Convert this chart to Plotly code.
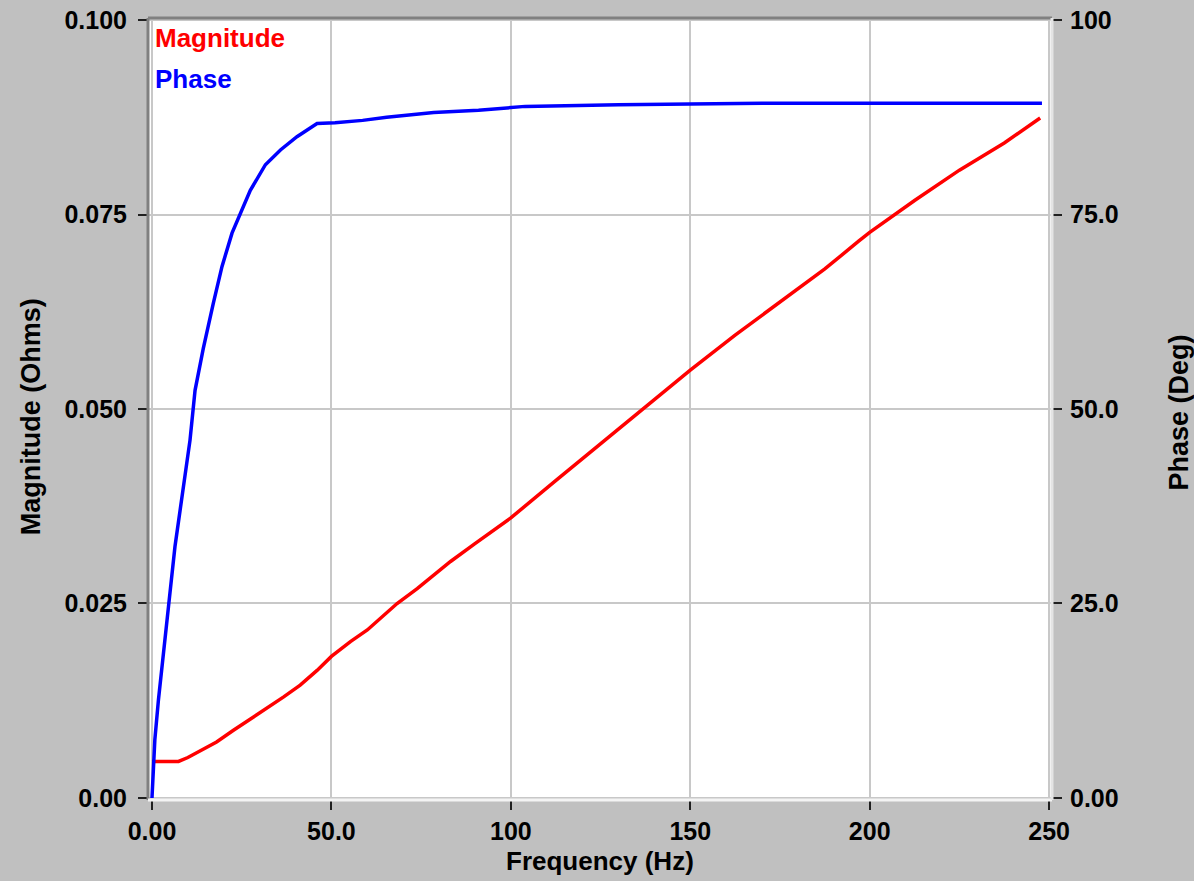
import plotly.graph_objects as go

# ---- data ----
freq_mag = [0, 7.4, 10, 13.4, 18, 22.7, 27.4, 32, 36.7, 41.3, 46, 50, 55.3, 60, 64.6,
            68.3, 73.9, 78.6, 83.2, 90, 100, 112.5, 125, 137, 150, 162.5, 175, 187.5,
            197, 200, 212.5, 225, 237.5, 247.5]
magnitude = [0.0047, 0.0047, 0.0052, 0.0060, 0.0072, 0.0087, 0.0101, 0.0115, 0.0130,
             0.0145, 0.0164, 0.0182, 0.0201, 0.0216, 0.0235, 0.0250, 0.0269, 0.0286,
             0.0304, 0.0327, 0.0360, 0.0408, 0.0455, 0.0500, 0.0550, 0.0595, 0.0638,
             0.0680, 0.0716, 0.0727, 0.0768, 0.0807, 0.0842, 0.0874]

freq_phase = [0, 0.8, 1.8, 3.2, 4.6, 6.4, 8.3, 10.6, 12, 14.3, 17.1, 19.5, 22.3, 24.6,
              27.4, 31.6, 35.8, 40.4, 45, 46, 51, 58.7, 65.4, 71.4, 78.5, 91, 104, 130,
              170, 248]
phase = [0, 7.5, 12.6, 18.2, 24.6, 32.3, 38.7, 46, 52.4, 57.8, 63.6, 68.3, 72.6, 75.2,
         78.1, 81.4, 83.3, 85.0, 86.5, 86.7, 86.8, 87.1, 87.5, 87.8, 88.1, 88.4, 88.9,
         89.1, 89.3, 89.3]

x_ticks = [0, 50, 100, 150, 200, 250]
x_ticktext = ["0.00", "50.0", "100", "150", "200", "250"]
mag_ticks = [0, 0.025, 0.05, 0.075, 0.1]
mag_ticktext = ["0.00", "0.025", "0.050", "0.075", "0.100"]
ph_ticks = [0, 25, 50, 75, 100]
ph_ticktext = ["0.00", "25.0", "50.0", "75.0", "100"]

FONT = "Liberation Sans, Arial, sans-serif"
FS = 26
TFS = 25
BG = "#C0C0C0"
GRID = "#C8C8C8"

fig = go.Figure()
fig.add_trace(go.Scatter(x=freq_mag, y=magnitude, mode="lines", name="Magnitude",
                         line=dict(color="#FF0000", width=3.5), yaxis="y"))
fig.add_trace(go.Scatter(x=freq_phase, y=phase, mode="lines", name="Phase",
                         line=dict(color="#0000FF", width=3.5), yaxis="y2"))

axis_common = dict(
    showgrid=True, gridcolor=GRID, gridwidth=2, zeroline=False,
    ticks="outside", ticklen=9, tickwidth=2, tickcolor="#202020",
    tickfont=dict(family=FONT, size=TFS, color="#000000", weight="bold"),
    showline=False, automargin=False,
)

fig.update_layout(
    width=1194, height=881,
    paper_bgcolor=BG, plot_bgcolor="#FFFFFF",
    margin=dict(l=148, r=142, t=18, b=81, autoexpand=False),
    showlegend=False,
    xaxis=dict(range=[-1.11, 250.8], tickvals=x_ticks, ticktext=x_ticktext, **axis_common),
    yaxis=dict(range=[-0.00026, 0.10026], tickvals=mag_ticks, ticktext=mag_ticktext,
               ticklabelstandoff=6, **axis_common),
    yaxis2=dict(range=[-0.26, 100.26], tickvals=ph_ticks, ticktext=ph_ticktext,
                overlaying="y", side="right", ticklabelstandoff=3,
                **{**axis_common, "showgrid": False}),
)

# sunken 3D border around the plot area
fig.add_shape(type="line", xref="paper", yref="paper", x0=0, x1=0, y0=0, y1=1,
              line=dict(color="#808080", width=3))
fig.add_shape(type="line", xref="paper", yref="paper", x0=0, x1=1, y0=1, y1=1,
              line=dict(color="#808080", width=3))
fig.add_shape(type="line", xref="paper", yref="paper", x0=0, x1=1, y0=0, y1=0,
              line=dict(color="#F4F4F4", width=3))
fig.add_shape(type="line", xref="paper", yref="paper", x0=1, x1=1, y0=0, y1=1,
              line=dict(color="#E4E4E4", width=3))

# in-plot legend texts
fig.add_annotation(xref="paper", yref="paper", x=0.005, y=0.996, xanchor="left",
                   yanchor="top", text="<b>Magnitude</b>", showarrow=False,
                   font=dict(family=FONT, size=FS, color="#FF0000"))
fig.add_annotation(xref="paper", yref="paper", x=0.005, y=0.944, xanchor="left",
                   yanchor="top", text="<b>Phase</b>", showarrow=False,
                   font=dict(family=FONT, size=FS, color="#0000FF"))

# axis titles
fig.add_annotation(xref="paper", yref="paper", x=0.5, y=-0.0775, xanchor="center",
                   yanchor="middle", text="<b>Frequency (Hz)</b>", showarrow=False,
                   font=dict(family=FONT, size=FS, color="#000000"))
fig.add_annotation(xref="paper", yref="paper", x=-0.13, y=0.49, xanchor="center",
                   yanchor="middle", text="<b>Magnitude (Ohms)</b>", showarrow=False,
                   textangle=-90, font=dict(family=FONT, size=FS + 1, color="#000000"))
fig.add_annotation(xref="paper", yref="paper", x=1.14, y=0.495, xanchor="center",
                   yanchor="middle", text="<b>Phase (Deg)</b>", showarrow=False,
                   textangle=-90, font=dict(family=FONT, size=FS + 1, color="#000000"))

fig.write_html(
    "out.html",
    config={"displayModeBar": False},
    post_script="document.body.style.margin='0';document.body.style.background='#C0C0C0';"
                "document.documentElement.style.overflow='hidden';",
)
